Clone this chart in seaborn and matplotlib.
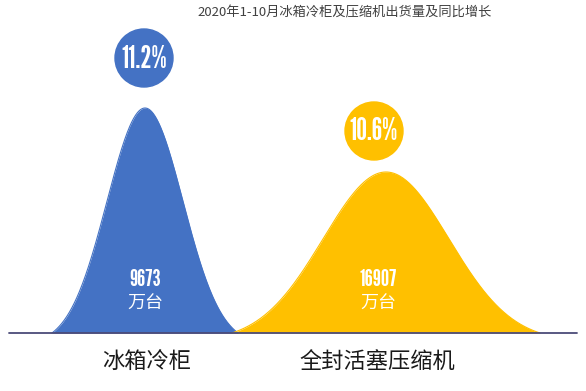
import numpy as np
import pandas as pd
import matplotlib.pyplot as plt
import seaborn as sns
from matplotlib.patches import Circle

# Chart data
title = '2020年1-10月冰箱冷柜及压缩机出货量及同比增长'
categories = ['冰箱冷柜', '全封活塞压缩机']
shipments = [9673, 16907]        # 万台
growth = [11.2, 10.6]            # %
unit = '万台'

# Styling / layout (pixel coordinates)
colors = ['#4472C4', '#FFC000']
centers = [145, 386]
half_widths = [93, 154]
peak_heights = [225, 161]
circle_pos = [(144, 58), (374, 131)]
base_y = 333
num_font = ['League Gothic', 'DejaVu Sans']

sns.set_theme(style='white')
plt.rcParams['font.family'] = ['Noto Sans CJK SC', 'DejaVu Sans']

fig = plt.figure(figsize=(5.86, 3.91), dpi=100)
ax = fig.add_axes([0, 0, 1, 1])
ax.set_xlim(0, 586)
ax.set_ylim(391, 0)
ax.axis('off')

# Bell-shaped peaks
frames = []
for cat, c, hw, h in zip(categories, centers, half_widths, peak_heights):
    x = np.linspace(c - hw, c + hw, 300)
    sigma = hw / 2.45
    g = np.exp(-0.5 * ((x - c) / sigma) ** 2)
    g0 = np.exp(-0.5 * (hw / sigma) ** 2)
    y = h * (g - g0) / (1 - g0)
    frames.append(pd.DataFrame({'x': x, 'y': base_y - y, 'cat': cat}))
df = pd.concat(frames, ignore_index=True)

for cat, col in zip(categories, colors):
    d = df[df['cat'] == cat]
    ax.fill_between(d['x'], d['y'], base_y, color=col, lw=0, zorder=2)
sns.lineplot(data=df, x='x', y='y', hue='cat', palette=colors, lw=0.8,
             legend=False, ax=ax, zorder=2, sort=False, estimator=None)
ax.set_ylim(391, 0)

# Baseline
ax.plot([9, 577], [base_y, base_y], color='#4B4B78', lw=1.3, zorder=3)

# Circles with growth rates
for (cx, cy), col, gr in zip(circle_pos, colors, growth):
    ax.add_patch(Circle((cx, cy), 29, color=col, zorder=4))
    ax.text(cx, cy + 1, f'{gr}%', color='white', fontsize=22, weight='bold',
            family=num_font, ha='center', va='center', zorder=5)

# Values inside the peaks
for c, val in zip([145, 378], shipments):
    ax.text(c, 279, f'{val}', color='white', fontsize=17, weight='bold',
            family=num_font, ha='center', va='center', zorder=5)
    ax.text(c, 304, unit, color='white', fontsize=13,
            ha='center', va='center', zorder=5)

# Category labels
for c, cat in zip([147, 377], categories):
    ax.text(c, 361, cat, color='#1a1a1a', fontsize=16,
            ha='center', va='center')

ax.text(345, 13, title, color='#404040', fontsize=9.5, ha='center', va='center')

fig.savefig('out.png', dpi=100)
